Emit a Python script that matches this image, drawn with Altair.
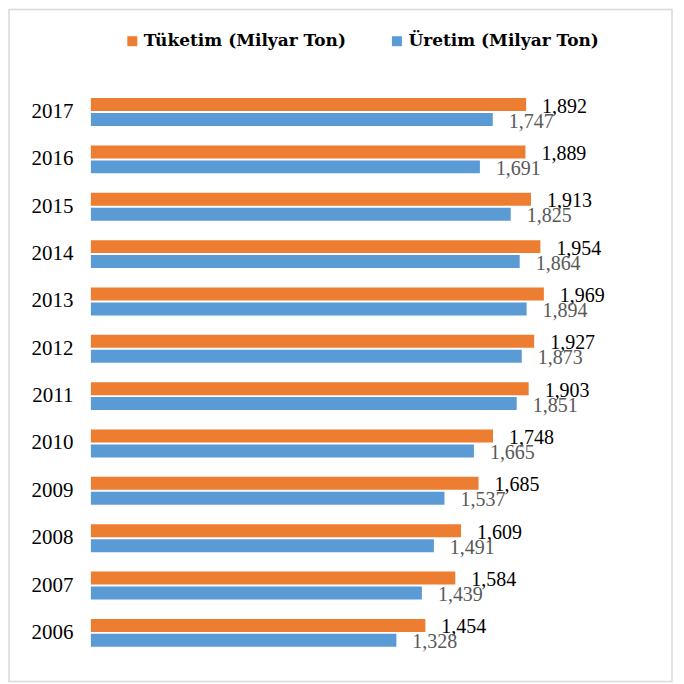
import altair as alt
import pandas as pd

years = ["2006", "2007", "2008", "2009", "2010", "2011", "2012", "2013", "2014", "2015", "2016", "2017"]
tuketim = [1.454, 1.584, 1.609, 1.685, 1.748, 1.903, 1.927, 1.969, 1.954, 1.913, 1.889, 1.892]
uretim = [1.328, 1.439, 1.491, 1.537, 1.665, 1.851, 1.873, 1.894, 1.864, 1.825, 1.691, 1.747]
series = ["Tüketim (Milyar Ton)", "Üretim (Milyar Ton)"]
colors = ["#ED7D31", "#5B9BD5"]

rows = []
for y, t, u in zip(years, tuketim, uretim):
    rows.append({"year": y, "series": series[0], "value": t, "label": f"{t:.3f}".replace(".", ",")})
    rows.append({"year": y, "series": series[1], "value": u, "label": f"{u:.3f}".replace(".", ",")})
df = pd.DataFrame(rows)

yenc = alt.Y("year:N", sort="descending",
             scale=alt.Scale(paddingInner=0.41, paddingOuter=0.205),
             axis=alt.Axis(title=None, domain=False, ticks=False, labelPadding=18,
                           labelFont="Liberation Serif", labelFontSize=21, labelColor="#000000"))
yoff = alt.YOffset("series:N", sort=series, scale=alt.Scale(paddingInner=0.13))
xenc = alt.X("value:Q", scale=alt.Scale(domain=[0, 2.5], nice=False, zero=True), axis=None)

base = alt.Chart(df)

bars = base.mark_bar().encode(
    y=yenc, yOffset=yoff, x=xenc,
    color=alt.Color("series:N", scale=alt.Scale(domain=series, range=colors),
                    legend=alt.Legend(title=None, orient="none", legendX=33, legendY=-56,
                                      direction="horizontal", symbolType="square", symbolSize=100,
                                      symbolStrokeWidth=0, labelOffset=3, columnPadding=42,
                                      labelLimit=0,
                                      labelFont="DejaVu Serif", labelFontWeight="bold",
                                      labelFontSize=17, labelColor="#000000", padding=0)),
)

txt_t = base.transform_filter(alt.datum.series == series[0]).mark_text(
    align="left", baseline="middle", dx=16, dy=2, font="Liberation Serif", fontSize=20, color="#000000"
).encode(y=yenc, yOffset=yoff, x=xenc, text="label:N")

txt_u = base.transform_filter(alt.datum.series == series[1]).mark_text(
    align="left", baseline="middle", dx=16, dy=2, font="Liberation Serif", fontSize=20, color="#595959"
).encode(y=yenc, yOffset=yoff, x=xenc, text="label:N")

frame = alt.Chart(pd.DataFrame({"a": [0]})).mark_rect(
    fill=None, stroke="#d9d9d9", strokeWidth=1.5
).encode(x=alt.value(-82), x2=alt.value(582), y=alt.value(-79), y2=alt.value(594))

chart = alt.layer(frame, bars, txt_t, txt_u).properties(
    width=576, height=569,
    background="#ffffff",
    autosize=alt.AutoSizeParams(type="none"),
    padding={"left": 83, "top": 80, "right": 10, "bottom": 27},
).configure_view(stroke="transparent", strokeWidth=0)

chart.save("out.html", embed_options={"renderer": "svg", "actions": False})
